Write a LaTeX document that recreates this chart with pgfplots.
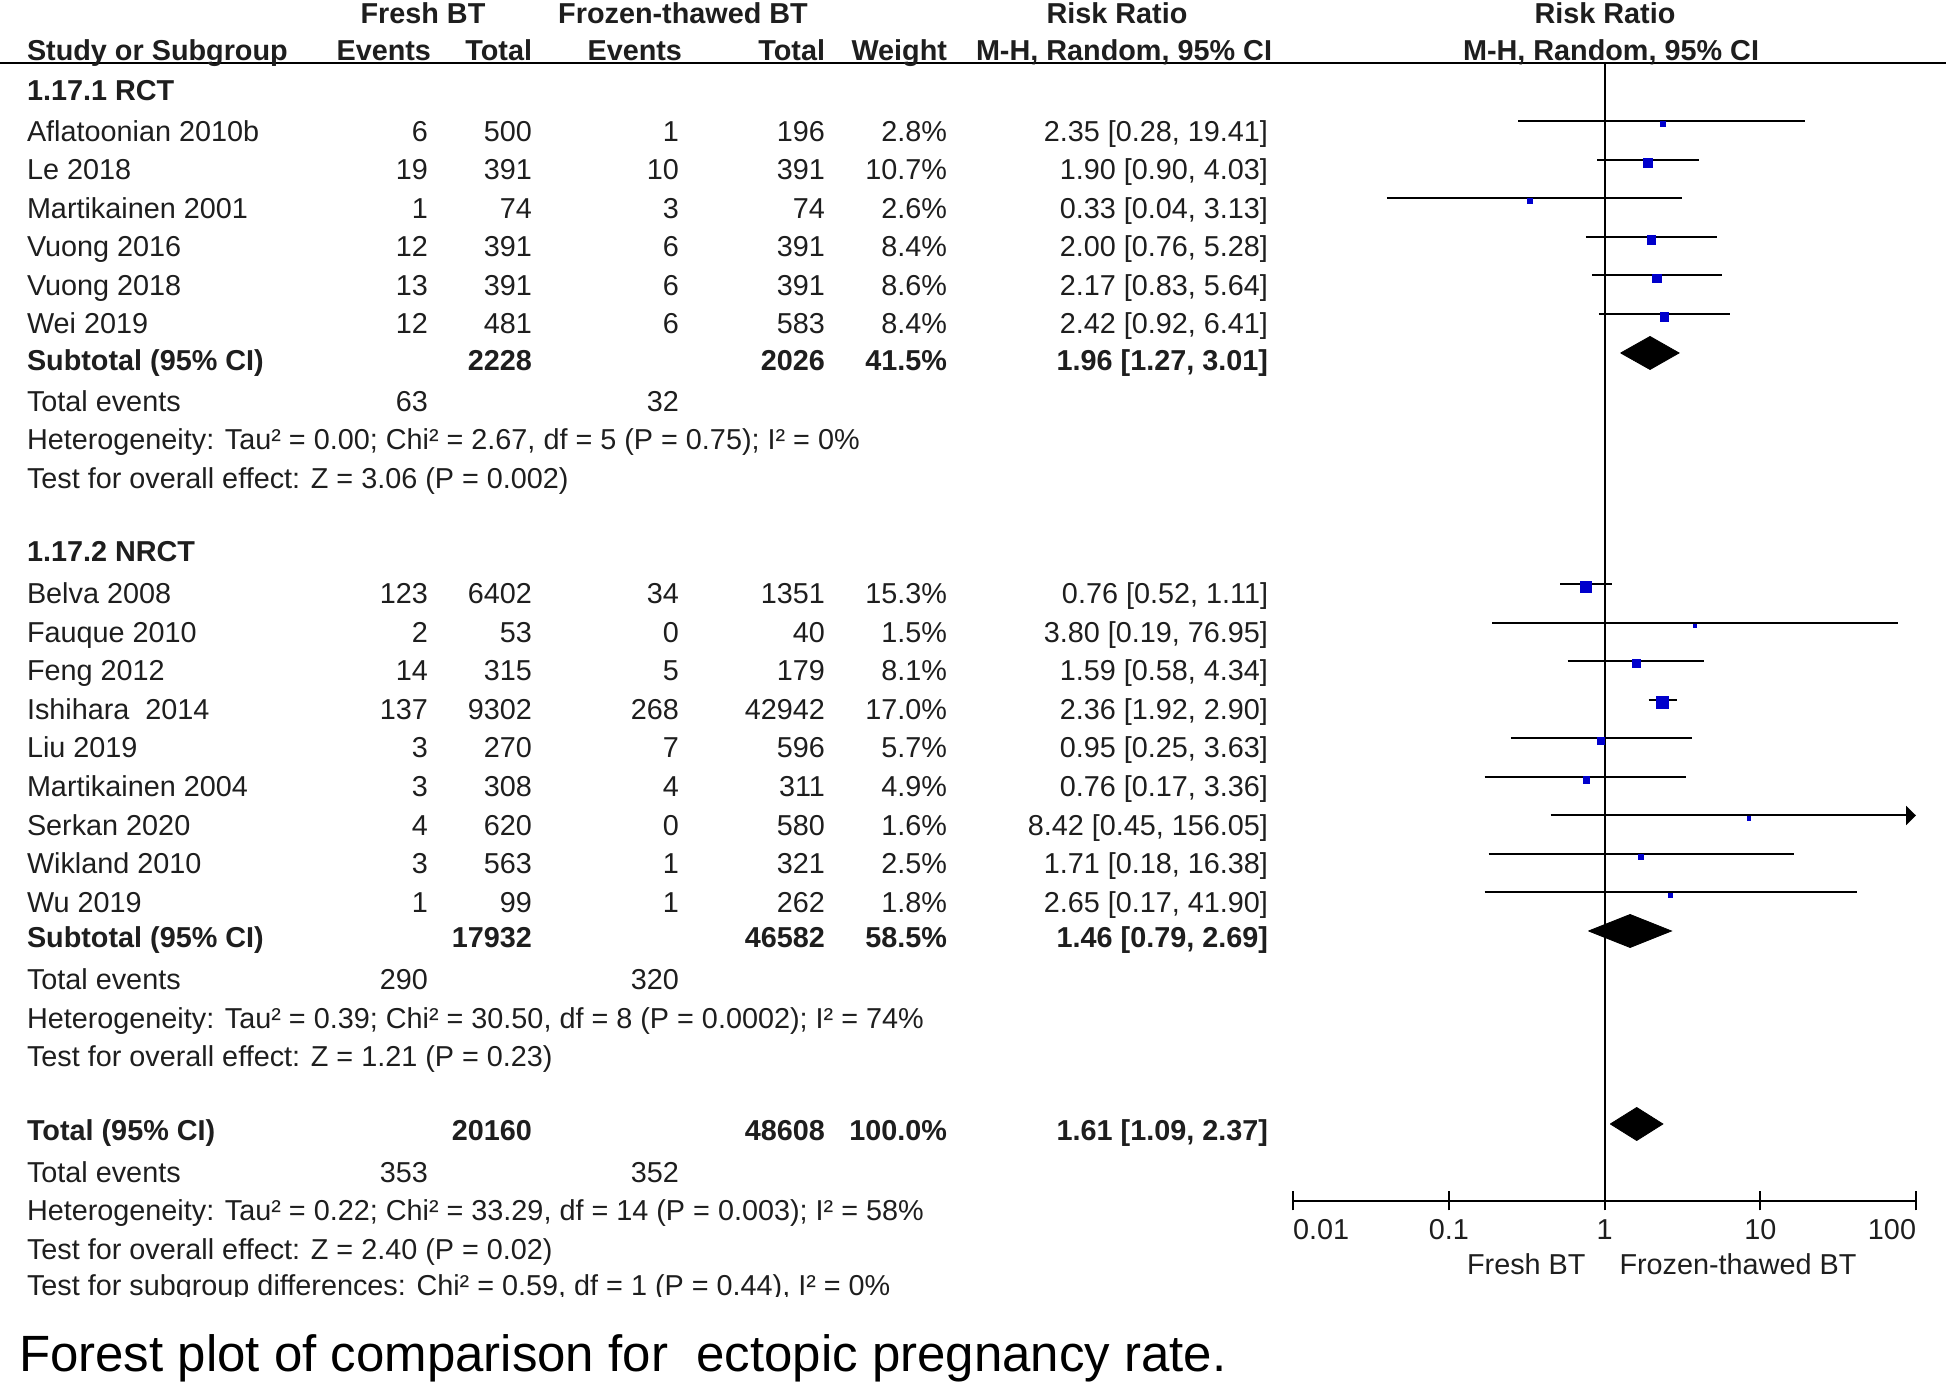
\documentclass[border=0pt]{standalone}
\usepackage{pgfplots}
\pgfplotsset{compat=1.18}
\usepackage{pgfplotstable}
\usepackage{fontspec}
\setmainfont{Liberation Sans}
\newfontfamily\capfont{Liberation Sans}
\usetikzlibrary{arrows.meta}
\definecolor{tx}{RGB}{30,30,30}
\definecolor{sq}{RGB}{0,0,204}
\newcommand\tf{\fontsize{14.4pt}{16pt}\selectfont}

% square markers: estimate, y (negated pixel row), mark size (pt, from weight)
\pgfplotstableread{
est ysq ms
2.35 -124 1.22
1.90 -162.5 2.38
0.33 -201 1.17
2.00 -239.5 2.11
2.17 -278 2.13
2.42 -316.5 2.11
0.76 -587 2.85
3.80 -625.5 0.89
1.59 -663.5 2.07
2.36 -702.5 3.00
0.95 -741 1.74
0.76 -779.5 1.61
8.42 -818 0.92
1.71 -856.5 1.15
2.65 -895 0.98
}\sqdata

\newcommand{\R}[8]{%
 \node[anchor=base west] at (axis cs:27,-#1) {#2};
 \node[anchor=base east] at (axis cs:428,-#1) {#3};
 \node[anchor=base east] at (axis cs:532,-#1) {#4};
 \node[anchor=base east] at (axis cs:679,-#1) {#5};
 \node[anchor=base east] at (axis cs:825,-#1) {#6};
 \node[anchor=base east] at (axis cs:947,-#1) {#7};
 \node[anchor=base east] at (axis cs:1268,-#1) {#8};
}
\newcommand{\B}[8]{%
 \node[anchor=base west,font=\tf\bfseries] at (axis cs:27,-#1) {#2};
 \node[anchor=base east,font=\tf\bfseries] at (axis cs:428,-#1) {#3};
 \node[anchor=base east,font=\tf\bfseries] at (axis cs:532,-#1) {#4};
 \node[anchor=base east,font=\tf\bfseries] at (axis cs:679,-#1) {#5};
 \node[anchor=base east,font=\tf\bfseries] at (axis cs:825,-#1) {#6};
 \node[anchor=base east,font=\tf\bfseries] at (axis cs:947,-#1) {#7};
 \node[anchor=base east,font=\tf\bfseries] at (axis cs:1268,-#1) {#8};
}
\newcommand{\Lt}[2]{\node[anchor=base west] at (axis cs:27,-#1) {#2};}

\begin{document}
\begin{tikzpicture}[every node/.style={font=\tf, text=tx, inner sep=0pt, outer sep=0pt}]
\begin{axis}[name=txt, at={(0pt,0pt)}, anchor=south west, scale only axis,
  width=973pt, height=692pt, xmin=0, xmax=1946, ymin=-1384, ymax=0,
  hide axis, clip=false]
 \addplot[line width=1pt, black] coordinates {(0,-63) (1946,-63)};
 % header
 \node[anchor=base,font=\tf\bfseries] at (axis cs:423,-24) {Fresh BT};
 \node[anchor=base,font=\tf\bfseries] at (axis cs:683,-24) {Frozen-thawed BT};
 \node[anchor=base,font=\tf\bfseries] at (axis cs:1117,-24) {Risk Ratio};
 \node[anchor=base,font=\tf\bfseries] at (axis cs:1605,-24) {Risk Ratio};
 \node[anchor=base west,font=\tf\bfseries] at (axis cs:27,-61) {Study or Subgroup};
 \node[anchor=base east,font=\tf\bfseries] at (axis cs:431,-61) {Events};
 \node[anchor=base east,font=\tf\bfseries] at (axis cs:532,-61) {Total};
 \node[anchor=base east,font=\tf\bfseries] at (axis cs:682,-61) {Events};
 \node[anchor=base east,font=\tf\bfseries] at (axis cs:825,-61) {Total};
 \node[anchor=base east,font=\tf\bfseries] at (axis cs:947,-61) {Weight};
 \node[anchor=base,font=\tf\bfseries] at (axis cs:1124,-61) {M-H, Random, 95\% CI};
 \node[anchor=base,font=\tf\bfseries] at (axis cs:1611,-61) {M-H, Random, 95\% CI};
 % RCT
 \node[anchor=base west,font=\tf\bfseries] at (axis cs:27,-100.5) {1.17.1 RCT};
 \R{141.5}{Aflatoonian 2010b}{6}{500}{1}{196}{2.8\%}{2.35 [0.28, 19.41]}
 \R{180}{Le 2018}{19}{391}{10}{391}{10.7\%}{1.90 [0.90, 4.03]}
 \R{218.5}{Martikainen 2001}{1}{74}{3}{74}{2.6\%}{0.33 [0.04, 3.13]}
 \R{257}{Vuong 2016}{12}{391}{6}{391}{8.4\%}{2.00 [0.76, 5.28]}
 \R{295.5}{Vuong 2018}{13}{391}{6}{391}{8.6\%}{2.17 [0.83, 5.64]}
 \R{334}{Wei 2019}{12}{481}{6}{583}{8.4\%}{2.42 [0.92, 6.41]}
 \B{371}{Subtotal (95\% CI)}{}{2228}{}{2026}{41.5\%}{1.96 [1.27, 3.01]}
 \R{412}{Total events}{63}{}{32}{}{}{}
 \Lt{450}{Heterogeneity: Tau² = 0.00; Chi² = 2.67, df = 5 (P = 0.75); I² = 0\%}
 \Lt{488.5}{Test for overall effect: Z = 3.06 (P = 0.002)}
 % NRCT
 \node[anchor=base west,font=\tf\bfseries] at (axis cs:27,-561.5) {1.17.2 NRCT};
 \R{604}{Belva 2008}{123}{6402}{34}{1351}{15.3\%}{0.76 [0.52, 1.11]}
 \R{643}{Fauque 2010}{2}{53}{0}{40}{1.5\%}{3.80 [0.19, 76.95]}
 \R{681}{Feng 2012}{14}{315}{5}{179}{8.1\%}{1.59 [0.58, 4.34]}
 \R{720}{Ishihara\ \ 2014}{137}{9302}{268}{42942}{17.0\%}{2.36 [1.92, 2.90]}
 \R{758}{Liu 2019}{3}{270}{7}{596}{5.7\%}{0.95 [0.25, 3.63]}
 \R{797}{Martikainen 2004}{3}{308}{4}{311}{4.9\%}{0.76 [0.17, 3.36]}
 \R{835.5}{Serkan 2020}{4}{620}{0}{580}{1.6\%}{8.42 [0.45, 156.05]}
 \R{874}{Wikland 2010}{3}{563}{1}{321}{2.5\%}{1.71 [0.18, 16.38]}
 \R{912.5}{Wu 2019}{1}{99}{1}{262}{1.8\%}{2.65 [0.17, 41.90]}
 \B{947.5}{Subtotal (95\% CI)}{}{17932}{}{46582}{58.5\%}{1.46 [0.79, 2.69]}
 \R{989.5}{Total events}{290}{}{320}{}{}{}
 \Lt{1028.5}{Heterogeneity: Tau² = 0.39; Chi² = 30.50, df = 8 (P = 0.0002); I² = 74\%}
 \Lt{1066.5}{Test for overall effect: Z = 1.21 (P = 0.23)}
 % Total
 \B{1140.5}{Total (95\% CI)}{}{20160}{}{48608}{100.0\%}{1.61 [1.09, 2.37]}
 \R{1182.5}{Total events}{353}{}{352}{}{}{}
 \Lt{1220.5}{Heterogeneity: Tau² = 0.22; Chi² = 33.29, df = 14 (P = 0.003); I² = 58\%}
 \Lt{1259.5}{Test for overall effect: Z = 2.40 (P = 0.02)}
 \coordinate (cA) at (axis cs:0,-1296.5);
 \coordinate (cB) at (axis cs:1300,-1265);
 \coordinate (sg) at (axis cs:27,-1296);
 \node[anchor=base west, font=\capfont\fontsize{25.5pt}{28pt}\selectfont, text=black] at (axis cs:19,-1371.5) {Forest plot of comparison for\ \ ectopic pregnancy rate.};
\end{axis}

\begin{axis}[name=fp, at={(646.5pt,91.5pt)}, anchor=south west, scale only axis,
  width=311.5pt, height=569pt, xmode=log, log basis x=10,
  xmin=0.01, xmax=100, ymin=-1201, ymax=-63,
  axis x line*=bottom, axis y line=none,
  xtick={0.01,0.1,1,10,100}, xticklabels={}, xminorticks=false,
  tick align=center, major tick length=9.5pt,
  tick style={line width=1pt, black},
  axis line style={line width=1pt, black, -},
  clip=false]
 \addplot[line width=1pt, black] coordinates {(1,-1201) (1,-63)};
 % confidence intervals
 \addplot[line width=1pt, black] coordinates {(0.28,-121.5) (19.41,-121.5)};
 \addplot[line width=1pt, black] coordinates {(0.90,-160) (4.03,-160)};
 \addplot[line width=1pt, black] coordinates {(0.04,-198.5) (3.13,-198.5)};
 \addplot[line width=1pt, black] coordinates {(0.76,-237) (5.28,-237)};
 \addplot[line width=1pt, black] coordinates {(0.83,-275.5) (5.64,-275.5)};
 \addplot[line width=1pt, black] coordinates {(0.92,-314) (6.41,-314)};
 \addplot[line width=1pt, black] coordinates {(0.52,-584.5) (1.11,-584.5)};
 \addplot[line width=1pt, black] coordinates {(0.19,-623) (76.95,-623)};
 \addplot[line width=1pt, black] coordinates {(0.58,-661) (4.34,-661)};
 \addplot[line width=1pt, black] coordinates {(1.92,-700) (2.90,-700)};
 \addplot[line width=1pt, black] coordinates {(0.25,-738.5) (3.63,-738.5)};
 \addplot[line width=1pt, black] coordinates {(0.17,-777) (3.36,-777)};
 \addplot[line width=1pt, black, -{Triangle[length=5pt,width=9.5pt]}] coordinates {(0.45,-815.5) (100,-815.5)};
 \addplot[line width=1pt, black] coordinates {(0.18,-854) (16.38,-854)};
 \addplot[line width=1pt, black] coordinates {(0.17,-892.5) (41.90,-892.5)};
 % squares
 \addplot[scatter, only marks, mark=square*,
   scatter/use mapped color={draw=sq, fill=sq},
   visualization depends on={\thisrow{ms} \as \msz},
   scatter/@pre marker code/.append style={/tikz/mark size=\msz},
   mark options={line width=0.2pt}] table[x=est, y=ysq] {\sqdata};
 % diamonds
 \addplot[fill=black, draw=black, line width=0.4pt] coordinates {(1.27,-353) (1.96,-336.5) (3.01,-353) (1.96,-369.5) (1.27,-353)};
 \addplot[fill=black, draw=black, line width=0.4pt] coordinates {(0.79,-931) (1.46,-914.5) (2.69,-931) (1.46,-947.5) (0.79,-931)};
 \addplot[fill=black, draw=black, line width=0.4pt] coordinates {(1.09,-1124) (1.61,-1107.5) (2.37,-1124) (1.61,-1140.5) (1.09,-1124)};
 % tick labels and direction labels
 \node[anchor=base west] at (axis cs:0.01,-1240) {0.01};
 \node[anchor=base] at (axis cs:0.1,-1240) {0.1};
 \node[anchor=base] at (axis cs:1,-1240) {1};
 \node[anchor=base] at (axis cs:10,-1240) {10};
 \node[anchor=base east] at (axis cs:100,-1240) {100};
 \node[anchor=base east] at (axis cs:0.755,-1275) {Fresh BT};
 \node[anchor=base west] at (axis cs:1.248,-1275) {Frozen-thawed BT};
\end{axis}

\begin{scope}
 \clip (cA) rectangle (cB);
 \node[anchor=base west] at (sg) {Test for subgroup differences: Chi² = 0.59, df = 1 (P = 0.44), I² = 0\%};
\end{scope}
\pgfresetboundingbox
\path (0,0) rectangle (973pt,692pt);
\end{tikzpicture}
\end{document}
